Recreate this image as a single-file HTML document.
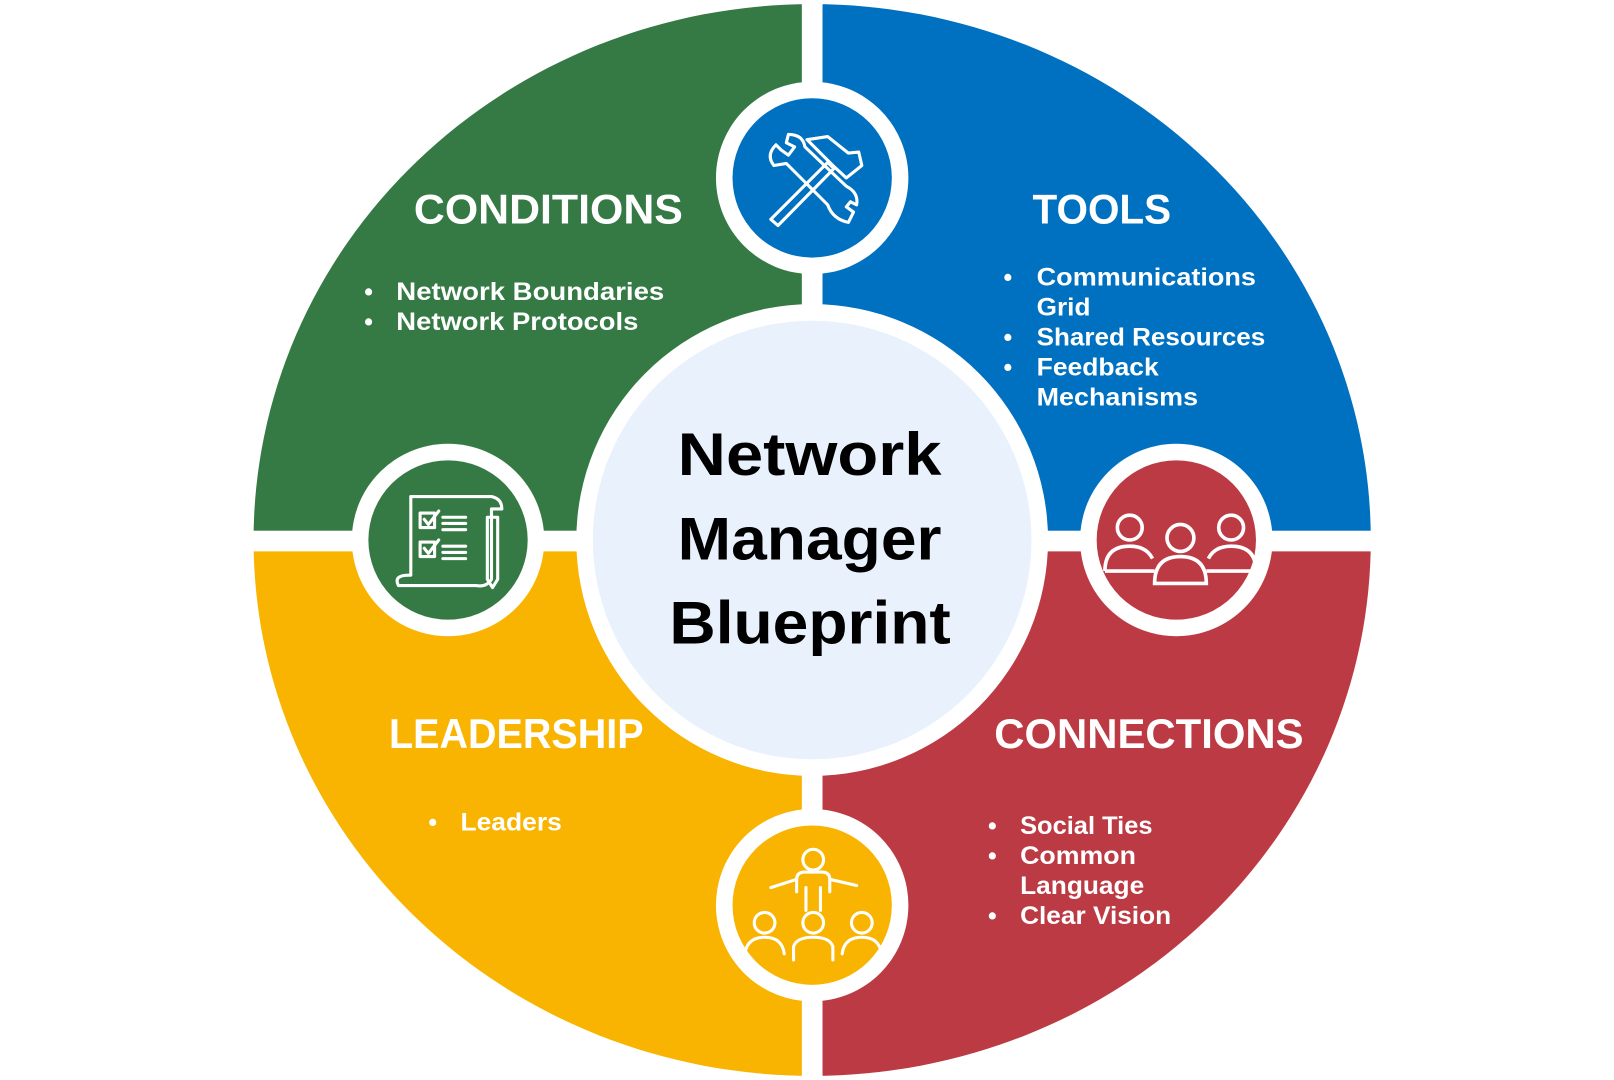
<!DOCTYPE html>
<html><head><meta charset="utf-8"><style>
html,body{margin:0;padding:0;background:#fff;width:1614px;height:1080px;overflow:hidden}
svg{display:block;position:absolute;left:0;top:0}
text{font-family:"Liberation Sans",sans-serif;font-weight:bold}
</style></head><body>
<svg width="1614" height="1080" viewBox="0 0 1560 1044" xmlns="http://www.w3.org/2000/svg">
<defs><clipPath id="c"><ellipse cx="785" cy="522" rx="540" ry="518"/></clipPath></defs>
<g clip-path="url(#c)">
<rect x="0" y="0" width="775" height="513" fill="#357a44"/>
<rect x="795" y="0" width="800" height="513" fill="#0070c0"/>
<rect x="795" y="533" width="800" height="600" fill="#bc3a43"/>
<rect x="0" y="533" width="775" height="600" fill="#f8b400"/>
</g>
<circle cx="785" cy="522" r="228" fill="#fff"/>
<circle cx="785" cy="522" r="212" fill="#e9f1fd"/>
<g font-size="58" fill="#000">
<text x="655" y="459" textLength="255" lengthAdjust="spacingAndGlyphs">Network</text>
<text x="655" y="541" textLength="255" lengthAdjust="spacingAndGlyphs">Manager</text>
<text x="647" y="622" textLength="272" lengthAdjust="spacingAndGlyphs">Blueprint</text>
</g>
<circle cx="785" cy="172" r="93" fill="#fff"/><circle cx="785" cy="172" r="77" fill="#0070c0"/>
<circle cx="433" cy="522" r="93" fill="#fff"/><circle cx="433" cy="522" r="77" fill="#357a44"/>
<circle cx="1137" cy="522" r="93" fill="#fff"/><circle cx="1137" cy="522" r="77" fill="#bc3a43"/>
<circle cx="785" cy="875" r="93" fill="#fff"/><circle cx="785" cy="875" r="77" fill="#f8b400"/>
<g stroke="#fff" stroke-width="3" fill="none" stroke-linejoin="round" stroke-linecap="round">
<path d="M745 212 L800 157 L806 163 L752 218 Z"/>
<path d="M780 135 L800 132 L820 148 L830 147 L833 160 L818 172 L805 160 Z"/>
<path d="M750 140 Q740 150 748 160 L760 158 L800 198 Q805 212 820 215 L825 205 L818 200 L822 195 L828 198 Q830 186 818 180 L778 142 Q776 130 762 130 L760 138 L768 142 L762 150 L755 145 Z"/>
</g>
<g stroke="#fff" stroke-width="3" fill="none" stroke-linejoin="round" stroke-linecap="round">
<path d="M397 480 L475 480 Q485 482 485 492 L475 492 L475 560 Q470 568 460 566 L385 566 Q380 556 395 556 L397 556 Z"/>
<rect x="406" y="496" width="14" height="14"/><rect x="406" y="524" width="14" height="14"/>
<path d="M410 502 L414 507 L424 494 M410 530 L414 535 L424 522 M428 500 H450 M428 506 H450 M428 512 H450 M428 528 H450 M428 534 H450 M428 540 H450"/>
<path d="M471 500 L481 500 L481 560 L476 568 L471 560 Z"/>
</g>
<g stroke="#fff" stroke-width="3.5" fill="none">
<circle cx="1092" cy="510" r="12"/><circle cx="1190" cy="510" r="12"/><circle cx="1141" cy="520" r="13"/>
<path d="M1068 552 Q1068 528 1092 528 Q1108 528 1114 540 M1214 552 Q1214 528 1190 528 Q1174 528 1168 540 M1068 552 H1116 M1166 552 H1214"/>
<path d="M1116 564 Q1116 538 1141 538 Q1166 538 1166 564 Z"/>
</g>
<g stroke="#fff" stroke-width="3" fill="none" stroke-linecap="round">
<circle cx="786" cy="831" r="10"/>
<path d="M770 862 L770 850 Q770 843 778 843 L794 843 Q802 843 802 850 L802 862 M770 850 L745 858 M802 850 L828 856 M779 858 L779 880 M793 858 L793 880"/>
<circle cx="739" cy="892" r="10"/><circle cx="786" cy="892" r="10"/><circle cx="833" cy="892" r="10"/>
<path d="M720 922 Q722 906 739 906 Q756 906 758 922 M767 928 L767 915 Q770 906 786 906 Q802 906 805 915 L805 928 M814 922 Q816 906 833 906 Q850 906 852 922"/>
</g>
<g fill="#fff">
<g font-size="40" lengthAdjust="spacingAndGlyphs">
<text x="400" y="216" textLength="260" lengthAdjust="spacingAndGlyphs">CONDITIONS</text>
<text x="998" y="216" textLength="134" lengthAdjust="spacingAndGlyphs">TOOLS</text>
<text x="376" y="723" textLength="246" lengthAdjust="spacingAndGlyphs">LEADERSHIP</text>
<text x="961" y="723" textLength="299" lengthAdjust="spacingAndGlyphs">CONNECTIONS</text>
</g>
<g font-size="24">
<text x="352" y="290">•</text><text x="383" y="290" textLength="259" lengthAdjust="spacingAndGlyphs">Network Boundaries</text>
<text x="352" y="319">•</text><text x="383" y="319" textLength="234" lengthAdjust="spacingAndGlyphs">Network Protocols</text>
<text x="970" y="276">•</text><text x="1002" y="276" textLength="212" lengthAdjust="spacingAndGlyphs">Communications</text>
<text x="1002" y="305" textLength="52" lengthAdjust="spacingAndGlyphs">Grid</text>
<text x="970" y="334">•</text><text x="1002" y="334" textLength="221" lengthAdjust="spacingAndGlyphs">Shared Resources</text>
<text x="970" y="363">•</text><text x="1002" y="363" textLength="118" lengthAdjust="spacingAndGlyphs">Feedback</text>
<text x="1002" y="392" textLength="156" lengthAdjust="spacingAndGlyphs">Mechanisms</text>
<text x="414" y="803">•</text><text x="445" y="803" textLength="98" lengthAdjust="spacingAndGlyphs">Leaders</text>
<text x="955" y="806">•</text><text x="986" y="806" textLength="128" lengthAdjust="spacingAndGlyphs">Social Ties</text>
<text x="955" y="835">•</text><text x="986" y="835" textLength="112" lengthAdjust="spacingAndGlyphs">Common</text>
<text x="986" y="864" textLength="120" lengthAdjust="spacingAndGlyphs">Language</text>
<text x="955" y="893">•</text><text x="986" y="893" textLength="146" lengthAdjust="spacingAndGlyphs">Clear Vision</text>
</g></g>
</svg>
</body></html>
